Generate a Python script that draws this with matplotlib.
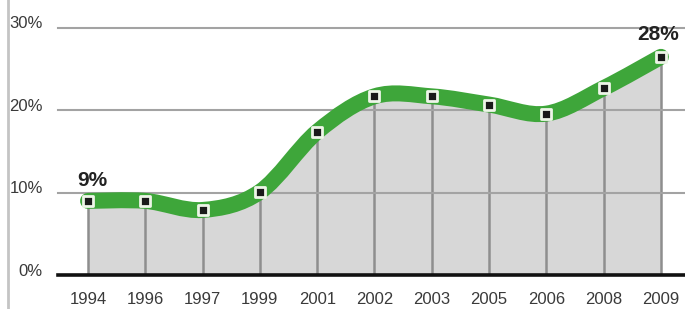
import numpy as np
import matplotlib
matplotlib.use('Agg')
import matplotlib.pyplot as plt
from matplotlib.path import Path
from matplotlib.patches import PathPatch
from matplotlib.lines import Line2D
from matplotlib.markers import MarkerStyle
from matplotlib.transforms import ScaledTranslation

years = ['1994', '1996', '1997', '1999', '2001', '2002', '2003', '2005', '2006', '2008', '2009']
values = [9.0, 9.0, 7.9, 10.1, 17.4, 21.7, 21.7, 20.7, 19.6, 22.7, 26.5]
y_ticks = [0, 10, 20, 30]
y_tick_labels = ['0%', '10%', '20%', '30%']
first_label = '9%'
last_label = '28%'

green = '#3ea63a'
fill_gray = '#d7d7d7'
grid_gray = '#a3a3a3'
text_color = '#3a3a3a'

plt.rcParams['font.family'] = ['Liberation Sans', 'DejaVu Sans']


def smooth_path(xs, ys):
    # catmull-rom through the points, turned into cubic bezier pieces
    pts = np.column_stack([xs, ys]).astype(float)
    ext = np.vstack([pts[0], pts, pts[-1]])
    verts = [tuple(pts[0])]
    codes = [Path.MOVETO]
    for i in range(len(pts) - 1):
        p0, p1, p2, p3 = ext[i], ext[i + 1], ext[i + 2], ext[i + 3]
        c1 = p1 + (p2 - p0) / 6.0
        c2 = p2 - (p3 - p1) / 6.0
        verts += [tuple(c1), tuple(c2), tuple(p2)]
        codes += [Path.CURVE4] * 3
    return verts, codes


fig = plt.figure(figsize=(6.85, 3.09), dpi=100)
ax = fig.add_axes([58 / 685, 34 / 309, 627 / 685, 275 / 309])

x = np.arange(len(years))
verts, codes = smooth_path(x, values)

# grey area under the curve
fill_verts = verts + [(x[-1], 0), (x[0], 0), verts[0]]
fill_codes = codes + [Path.LINETO, Path.LINETO, Path.CLOSEPOLY]
ax.add_patch(PathPatch(Path(fill_verts, fill_codes), facecolor=fill_gray,
                       edgecolor='none', zorder=1))

# vertical drop lines
ax.vlines(x, 0, values, color='#8e8e8e', lw=1.8, zorder=2)

# horizontal grid
for t in y_ticks[1:]:
    ax.axhline(t, color=grid_gray, lw=1.5, zorder=2, clip_on=False)
ax.axhline(0, color='#111111', lw=2.6, zorder=3, clip_on=False)

# thick green curve
ax.add_patch(PathPatch(Path(verts, codes), facecolor='none', edgecolor=green,
                       lw=11.5, capstyle='round', joinstyle='round', zorder=4))

marker = MarkerStyle('s', joinstyle='round')
ax.plot(x, values, linestyle='none', marker=marker, markersize=7.5,
        markerfacecolor='#1a1a1a', markeredgecolor='#eef5e8',
        markeredgewidth=2.0, zorder=5)

ax.text(x[0] + 0.07, values[0] + 1.3, first_label, ha='center', va='bottom',
        fontsize=15, fontweight='bold', color='#222222')
ax.text(x[-1] - 0.05, 28.0, last_label, ha='center', va='bottom',
        fontsize=15, fontweight='bold', color='#222222')

ax.set_xlim(-0.524, 10.42)
ax.set_ylim(0, 33.4)
ax.set_xticks(x)
ax.set_xticklabels(years, fontsize=12, color=text_color)
ax.set_yticks(y_ticks)
ax.set_yticklabels(y_tick_labels, fontsize=12, color=text_color, va='center')
ax.tick_params(axis='x', length=0, pad=12)
ax.tick_params(axis='y', length=0, pad=11)
shift = ScaledTranslation(0, 4 / 100, fig.dpi_scale_trans)
for lab in ax.get_yticklabels():
    lab.set_transform(lab.get_transform() + shift)
for s in ax.spines.values():
    s.set_visible(False)

# thin grey rule at the far left
fig.add_artist(Line2D([8 / 685, 8 / 685], [0, 1], color='#c4c4c4', lw=2,
                      transform=fig.transFigure))

fig.savefig('out.png', dpi=100)
